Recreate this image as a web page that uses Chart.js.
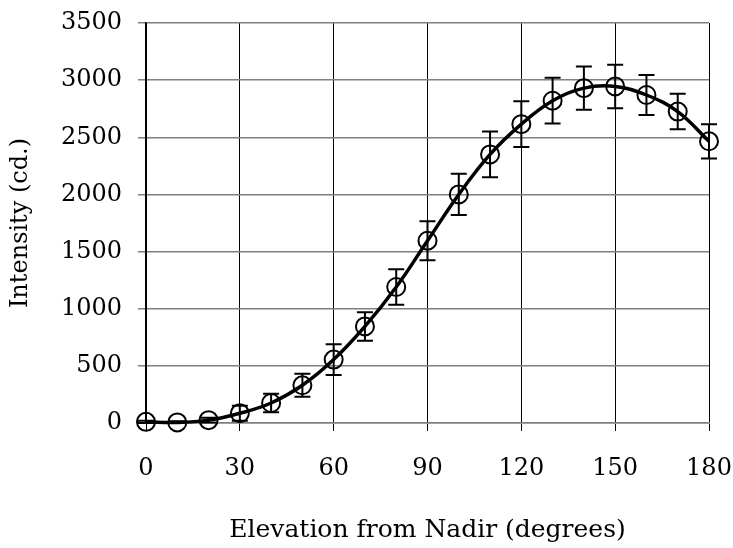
<!DOCTYPE html>
<html>
<head>
<meta charset="utf-8">
<script src="https://cdn.jsdelivr.net/npm/chart.js@4/dist/chart.umd.min.js"></script>
<style>
  html, body { margin: 0; padding: 0; background: #fff; }
  #wrap { width: 733px; height: 548px; }
</style>
</head>
<body>
<div id="wrap"><canvas id="chart" width="733" height="548"></canvas></div>
<script>
// Elevation angles (degrees) and measured intensity (cd.)
const angles = [0, 10, 20, 30, 40, 50, 60, 70, 80, 90, 100, 110, 120, 130, 140, 150, 160, 170, 180];
const intensity = [10, 5, 25, 85, 175, 330, 555, 845, 1190, 1595, 2000, 2350, 2615, 2820, 2930, 2945, 2870, 2725, 2465];
// +/- error bar half-size for each point
const errors = [10, 10, 20, 65, 80, 100, 135, 125, 155, 170, 180, 200, 200, 200, 190, 190, 175, 155, 150];

const xTicks = [0, 30, 60, 90, 120, 150, 180];
const yTicks = [0, 500, 1000, 1500, 2000, 2500, 3000, 3500];

Chart.defaults.font.family = 'DejaVu Serif';
Chart.defaults.color = '#000';

// Draw the error bars from the scales
const errorBars = {
    id: 'errorBars',
    afterDatasetsDraw(chart) {
        const ctx = chart.ctx;
        const xs = chart.scales.x;
        const ys = chart.scales.y;
        ctx.save();
        ctx.strokeStyle = '#000';
        ctx.lineWidth = 2;
        angles.forEach((a, i) => {
            const px = xs.getPixelForValue(a);
            const top = ys.getPixelForValue(intensity[i] + errors[i]);
            const bot = ys.getPixelForValue(Math.max(0, intensity[i] - errors[i]));
            ctx.beginPath();
            ctx.moveTo(px, top);
            ctx.lineTo(px, bot);
            ctx.moveTo(px - 8, top);
            ctx.lineTo(px + 8, top);
            ctx.moveTo(px - 8, bot);
            ctx.lineTo(px + 8, bot);
            ctx.stroke();
        });
        ctx.restore();
    }
};

const points = angles.map((a, i) => ({ x: a, y: intensity[i] }));

const chart = new Chart(document.getElementById('chart'), {
    type: 'line',
    data: {
        datasets: [{
            data: points,
            borderColor: '#000',
            borderWidth: 3.5,
            tension: 0.4,
            fill: false,
            clip: false,
            pointStyle: 'circle',
            pointRadius: 9,
            pointBorderWidth: 2,
            pointBorderColor: '#000',
            pointBackgroundColor: 'rgba(0,0,0,0)'
        }]
    },
    options: {
        responsive: false,
        animation: false,
        layout: { padding: { top: 23, right: 24, left: 0, bottom: 0 } },
        plugins: {
            legend: { display: false },
            tooltip: { enabled: false }
        },
        scales: {
            x: {
                type: 'linear',
                min: 0,
                max: 180,
                afterBuildTicks: s => { s.ticks = xTicks.map(v => ({ value: v })); },
                afterFit: s => { s.height = 125; s.paddingLeft = 0; s.paddingRight = 0; },
                grid: { color: '#000', lineWidth: 1, tickLength: 8, drawTicks: true },
                border: { color: '#808080', width: 1.5 },
                ticks: { padding: 23, font: { size: 24 }, callback: v => String(v) },
                title: {
                    display: true,
                    text: 'Elevation from Nadir (degrees)',
                    font: { size: 25 },
                    padding: { top: 0, bottom: 3 }
                }
            },
            y: {
                min: 0,
                max: 3500,
                afterBuildTicks: s => { s.ticks = yTicks.map(v => ({ value: v })); },
                afterFit: s => { s.width = 146; s.paddingTop = 0; s.paddingBottom = 0; },
                grid: { color: '#808080', lineWidth: 1.5, tickLength: 8 },
                border: { color: '#000', width: 1.5 },
                ticks: { padding: 16, font: { size: 24 }, callback: v => String(v) },
                title: {
                    display: true,
                    text: 'Intensity (cd.)',
                    font: { size: 24 },
                    padding: { top: 6, bottom: 0 }
                }
            }
        }
    },
    plugins: [errorBars]
});
</script>
</body>
</html>
